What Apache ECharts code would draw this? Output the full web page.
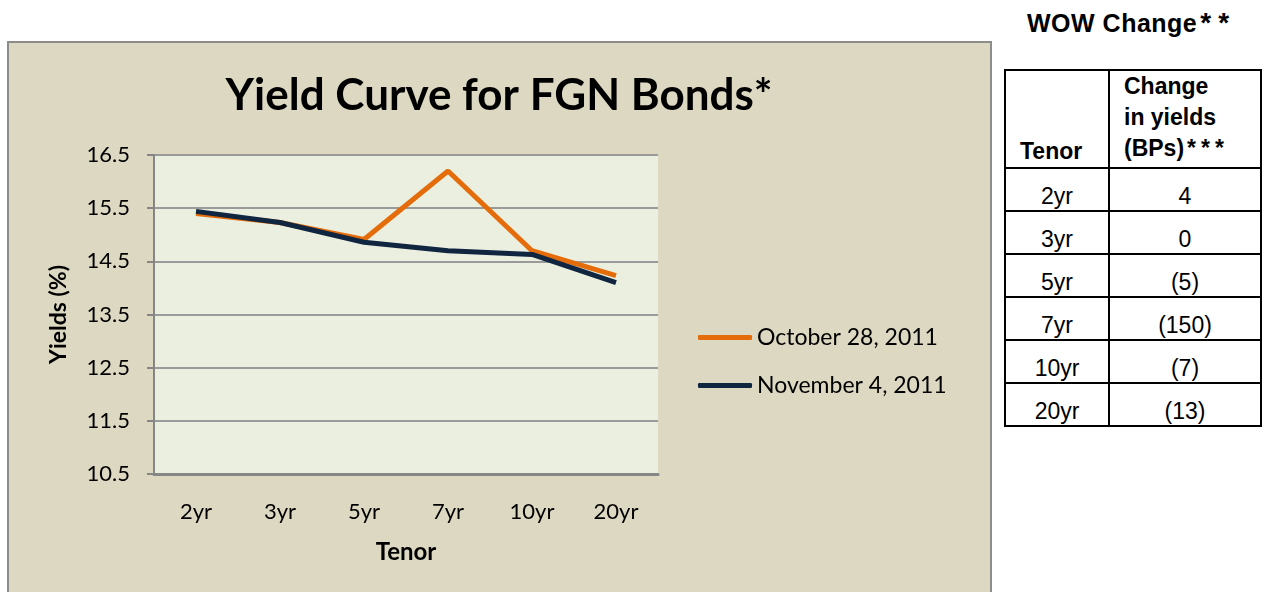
<!DOCTYPE html>
<html lang="en">
<head>
    <meta charset="UTF-8">
    <title>Yield Curve for FGN Bonds</title>
    <script src="https://cdn.jsdelivr.net/npm/echarts@6/dist/echarts.min.js"></script>
    <style>
        body { margin: 0; background: #fff; width: 1266px; height: 592px; overflow: hidden; position: relative; font-family: "Liberation Sans", Arial, sans-serif; }
        #box { position: absolute; left: 7px; top: 41px; width: 981px; height: 570px; border: 2px solid #8c8c8c; background: #ddd8c2; }
        #main { width: 981px; height: 570px; }
        #wow { position: absolute; left: 1027px; top: 7px; font-weight: bold; font-size: 25px; color: #000; letter-spacing: 0.5px; }
        #tbl { position: absolute; left: 1004px; top: 69px; border-collapse: collapse; }
        #tbl td { border: 2px solid #000; font-size: 23px; text-align: center; height: 40px; padding: 0 0 1px 0; vertical-align: bottom; line-height: 26px; }
        #tbl tr.hd td { font-weight: bold; height: 93px; text-align: left; padding-left: 14px; padding-bottom: 3px; }
    </style>
</head>
<body>
<div id="box"><div id="main"></div></div>
<div id="wow">WOW Change<span style="font-size:28px; letter-spacing:7px; margin-left:3px">**</span></div>
<table id="tbl"></table>
<script type="text/javascript">
    // tenors on the x axis
    let tenors = ['2yr', '3yr', '5yr', '7yr', '10yr', '20yr'];
    // yields (%)
    let oct28 = [15.40, 15.23, 14.91, 16.20, 14.70, 14.23];
    let nov4 = [15.44, 15.23, 14.86, 14.70, 14.63, 14.10];
    // week-on-week change (bps) from the table
    let wowChange = ['4', '0', '(5)', '(150)', '(7)', '(13)'];

    // table on the right
    let tbl = document.getElementById('tbl');
    let html = '<tr class="hd"><td style="width:88px">Tenor</td>' +
        '<td style="width:136px;line-height:31px">Change<br>in yields<br>(BPs)<span style="letter-spacing:5px; margin-left:3px">***</span></td></tr>';
    for (let i = 0; i < tenors.length; i++) {
        html += '<tr><td>' + tenors[i] + '</td><td>' + wowChange[i] + '</td></tr>';
    }
    tbl.innerHTML = html;

    let myChart = echarts.init(document.getElementById('main'));
    let font = 'Lato, "Open Sans", sans-serif';
    let option = {
        animation: false,
        title: {
            text: 'Yield Curve for FGN Bonds*',
            left: 485,
            textAlign: 'center',
            top: 26,
            textStyle: { fontFamily: font, fontSize: 44, fontWeight: 'bold', color: '#000' }
        },
        legend: {
            orient: 'vertical',
            left: 689,
            top: 283,
            padding: 0,
            itemGap: 25,
            itemWidth: 54,
            itemHeight: 5,
            icon: 'roundRect',
            textStyle: { fontFamily: font, fontSize: 23, color: '#000' },
            data: ['October 28, 2011', 'November 4, 2011']
        },
        grid: {
            left: 145,
            top: 112,
            width: 504,
            height: 319,
            show: true,
            backgroundColor: '#ebefdf',
            borderWidth: 0
        },
        xAxis: {
            type: 'category',
            data: tenors,
            name: 'Tenor',
            nameLocation: 'middle',
            nameGap: 66,
            nameTextStyle: { fontFamily: font, fontSize: 24, fontWeight: 'bold', color: '#000' },
            axisLine: { lineStyle: { color: '#868686', width: 3 } },
            axisTick: { show: false },
            axisLabel: { fontFamily: font, fontSize: 22, color: '#000', margin: 27 }
        },
        yAxis: {
            type: 'value',
            min: 10.5,
            max: 16.5,
            interval: 1,
            name: 'Yields (%)',
            nameLocation: 'middle',
            nameGap: 84,
            nameTextStyle: { fontFamily: font, fontSize: 23, fontWeight: 'bold', color: '#000' },
            axisLine: { show: true, lineStyle: { color: '#868686', width: 2 } },
            axisTick: { show: true, length: 7, lineStyle: { color: '#868686', width: 2 } },
            axisLabel: { fontFamily: font, fontSize: 22, color: '#000', margin: 24 },
            splitLine: { lineStyle: { color: '#9a9a9a', width: 2 } }
        },
        series: [
            {
                name: 'October 28, 2011',
                type: 'line',
                data: oct28,
                symbol: 'none',
                color: '#e46c0a',
                lineStyle: { width: 5, color: '#e46c0a' }
            },
            {
                name: 'November 4, 2011',
                type: 'line',
                data: nov4,
                symbol: 'none',
                color: '#10253f',
                lineStyle: { width: 5, color: '#10253f' }
            }
        ]
    };
    myChart.setOption(option);
</script>
</body>
</html>
